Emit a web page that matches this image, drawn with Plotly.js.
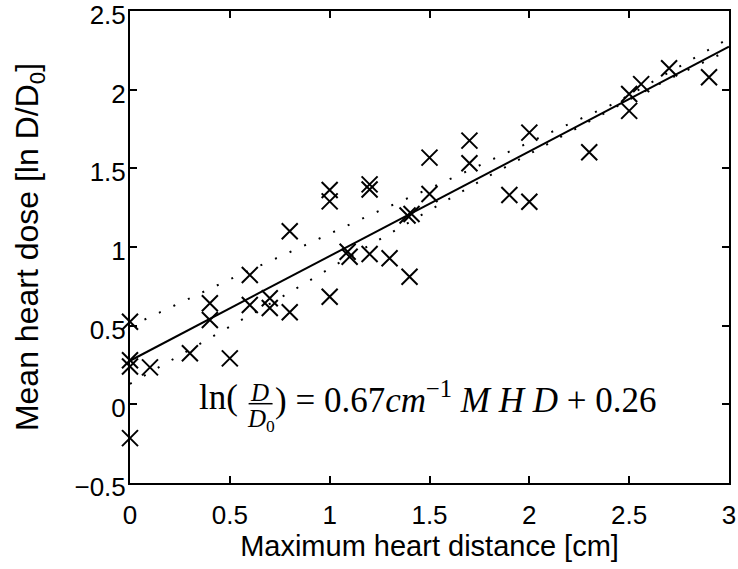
<!DOCTYPE html>
<html>
<head>
<meta charset="utf-8">
<script src="https://cdn.plot.ly/plotly-3.0.1.min.js"></script>
<style>html,body{margin:0;padding:0;background:#fff;}#chart{width:738px;height:569px;}</style>
</head>
<body>
<div id="chart"></div>
<script>
// Measured points: maximum heart distance [cm] vs mean heart dose [ln D/D0]
const mhd = [0, 0, 0, 0, 0.1, 0.3, 0.4, 0.4, 0.5, 0.6, 0.6, 0.7, 0.7, 0.8, 0.8,
  1.0, 1.0, 1.0, 1.09, 1.1, 1.2, 1.2, 1.2, 1.3, 1.39, 1.41, 1.4, 1.5, 1.5,
  1.7, 1.7, 1.9, 2.0, 2.0, 2.3, 2.5, 2.5, 2.56, 2.7, 2.9];
const dose = [0.525, 0.28, 0.24, -0.215, 0.235, 0.325, 0.642, 0.536, 0.292, 0.822, 0.631, 0.674, 0.612, 0.585, 1.10,
  0.684, 1.362, 1.29, 0.97, 0.938, 0.955, 1.398, 1.365, 0.928, 1.2, 1.21, 0.811, 1.568, 1.337,
  1.676, 1.532, 1.331, 1.727, 1.288, 1.602, 1.972, 1.865, 2.035, 2.136, 2.079];

// Linear fit
const fitX = [0, 3];
const fitY = [0.277, 2.273];

// Dotted bands
const upperX = [0, 0.3, 0.53, 0.84, 1.21, 1.52, 1.82, 2.13, 2.43, 2.75, 2.97];
const upperY = [0.495, 0.675, 0.812, 0.99, 1.208, 1.383, 1.562, 1.742, 1.915, 2.146, 2.305];
const lowerX = [0, 0.22, 0.44, 0.58, 0.8, 1.015, 1.3, 1.59, 1.81, 2.03, 2.3, 2.59, 2.81, 2.96];
const lowerY = [0.13, 0.29, 0.451, 0.553, 0.712, 0.875, 1.087, 1.299, 1.46, 1.612, 1.795, 1.998, 2.136, 2.227];

const xTicks = [0, 0.5, 1, 1.5, 2, 2.5, 3];
const yTicks = [-0.5, 0, 0.5, 1, 1.5, 2, 2.5];

const traces = [
  {x: upperX, y: upperY, mode: 'lines', line: {color: '#000', width: 2, dash: '2px,14px'}, hoverinfo: 'skip', showlegend: false},
  {x: lowerX, y: lowerY, mode: 'lines', line: {color: '#000', width: 2, dash: '2px,14px'}, hoverinfo: 'skip', showlegend: false},
  {x: fitX, y: fitY, mode: 'lines', line: {color: '#000', width: 2}, showlegend: false},
  {x: mhd, y: dose, mode: 'markers', cliponaxis: false,
   marker: {symbol: 'x-thin-open', size: 16, color: '#000', line: {color: '#000', width: 2}}, showlegend: false}
];

const sans = 'Liberation Sans, Arial, sans-serif';
const serif = 'Liberation Serif, Times New Roman, serif';
const axisFont = {family: sans, size: 26, color: '#000'};
const eqFont = {family: serif, size: 35, color: '#000'};
const fracFont = {family: serif, size: 25, color: '#000'};

const layout = {
  width: 738, height: 569,
  margin: {l: 130, r: 9, t: 11, b: 86},
  paper_bgcolor: '#fff', plot_bgcolor: '#fff',
  showlegend: false,
  xaxis: {
    range: [0, 3], tickvals: xTicks, ticks: 'inside', ticklen: 7, tickwidth: 2, tickcolor: '#000',
    showline: true, linecolor: '#000', linewidth: 2, mirror: 'ticks', showgrid: false, zeroline: false,
    tickfont: axisFont, ticklabeloverflow: 'allow', ticklabelstandoff: 8,
    title: {text: 'Maximum heart distance [cm]', font: {family: sans, size: 29, color: '#000'}, standoff: 6}
  },
  yaxis: {
    range: [-0.5, 2.5], tickvals: yTicks, ticks: 'inside', ticklen: 7, tickwidth: 2, tickcolor: '#000',
    showline: true, linecolor: '#000', linewidth: 2, mirror: 'ticks', showgrid: false, zeroline: false,
    tickfont: axisFont, ticklabeloverflow: 'allow', ticklabelstandoff: -3, ticklabelshift: 4,
    title: {text: 'Mean heart dose [ln D/D<sub>0</sub>]', font: {family: sans, size: 32, color: '#000'}, standoff: 26}
  },
  annotations: [
    {xref: 'paper', yref: 'paper', x: 0.112, y: 0.182, xanchor: 'left', yanchor: 'middle', showarrow: false,
     text: 'ln(', font: eqFont},
    {xref: 'paper', yref: 'paper', x: 0.217, y: 0.192, xanchor: 'center', yanchor: 'middle', showarrow: false,
     text: '<i>D</i>', font: fracFont},
    {xref: 'paper', yref: 'paper', x: 0.219, y: 0.132, xanchor: 'center', yanchor: 'middle', showarrow: false,
     text: '<i>D</i><sub>0</sub>', font: fracFont},
    {xref: 'paper', yref: 'paper', x: 0.238, y: 0.182, xanchor: 'left', yanchor: 'middle', showarrow: false,
     text: ') = 0.67<i>cm</i><sup>−1</sup> <i>M H D</i> + 0.26', font: eqFont}
  ],
  shapes: [
    {type: 'line', xref: 'paper', yref: 'paper', x0: 0.198, x1: 0.238, y0: 0.168, y1: 0.168, line: {color: '#000', width: 1.5}}
  ]
};

Plotly.newPlot('chart', traces, layout, {displayModeBar: false, staticPlot: true});
</script>
</body>
</html>
